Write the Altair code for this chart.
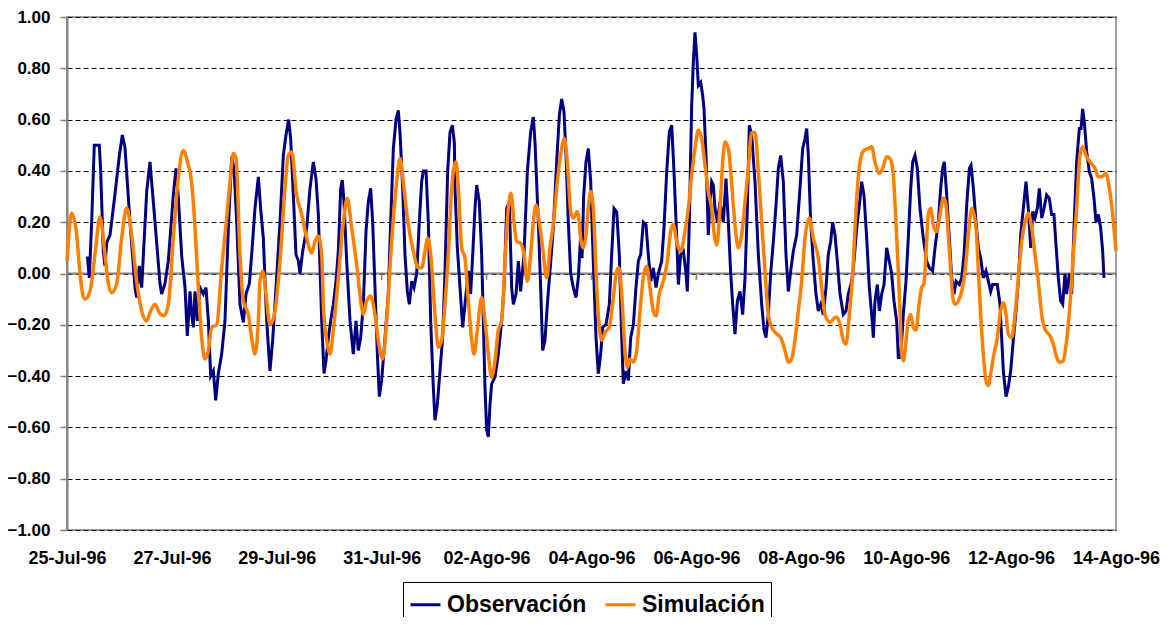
import altair as alt
import pandas as pd

# ---------------- data (days after 25-Jul-96, water level) ----------------
obs_day = [0.388, 0.426, 0.47, 0.52, 0.616, 0.642, 0.692, 0.724, 0.757, 0.82, 0.915, 0.998, 1.055, 1.106, 1.201,
           1.296, 1.328, 1.379, 1.424, 1.52, 1.582, 1.678, 1.773, 1.805, 1.868, 1.932, 2.027, 2.078, 2.122, 2.186,
           2.25, 2.294, 2.345, 2.377, 2.408, 2.44, 2.485, 2.536, 2.599, 2.65, 2.695, 2.74, 2.79, 2.835, 2.885,
           2.949, 3.012, 3.076, 3.14, 3.184, 3.235, 3.298, 3.362, 3.413, 3.476, 3.521, 3.584, 3.648, 3.693, 3.743,
           3.807, 3.87, 3.921, 3.985, 4.061, 4.124, 4.175, 4.226, 4.265, 4.315, 4.366, 4.41, 4.442, 4.494, 4.57,
           4.633, 4.696, 4.747, 4.792, 4.856, 4.9, 4.938, 4.983, 5.027, 5.078, 5.129, 5.173, 5.218, 5.249, 5.281,
           5.332, 5.396, 5.459, 5.51, 5.554, 5.599, 5.65, 5.701, 5.745, 5.79, 5.828, 5.872, 5.917, 5.955, 5.999,
           6.063, 6.126, 6.171, 6.222, 6.273, 6.317, 6.349, 6.4, 6.444, 6.489, 6.527, 6.572, 6.616, 6.667, 6.717,
           6.762, 6.794, 6.845, 6.889, 6.934, 6.984, 7.016, 7.061, 7.111, 7.162, 7.207, 7.258, 7.302, 7.347, 7.385,
           7.398, 7.442, 7.493, 7.544, 7.588, 7.652, 7.696, 7.735, 7.779, 7.811, 7.861, 7.906, 7.938, 7.969, 8.001,
           8.033, 8.065, 8.096, 8.16, 8.224, 8.287, 8.332, 8.383, 8.433, 8.478, 8.51, 8.561, 8.605, 8.649, 8.713,
           8.777, 8.84, 8.891, 8.923, 8.986, 9.031, 9.069, 9.113, 9.158, 9.209, 9.272, 9.336, 9.387, 9.431, 9.476,
           9.514, 9.558, 9.603, 9.653, 9.704, 9.749, 9.794, 9.82, 9.85, 9.895, 9.939, 9.985, 10.034, 10.086, 10.13,
           10.175, 10.213, 10.276, 10.34, 10.385, 10.429, 10.481, 10.53, 10.576, 10.607, 10.658, 10.702, 10.747,
           10.798, 10.848, 10.893, 10.938, 10.988, 11.039, 11.083, 11.128, 11.178, 11.23, 11.274, 11.338, 11.382,
           11.434, 11.484, 11.529, 11.573, 11.625, 11.656, 11.7, 11.751, 11.802, 11.827, 11.865, 11.91, 11.941,
           11.973, 12.005, 12.037, 12.082, 12.12, 12.145, 12.183, 12.227, 12.259, 12.291, 12.322, 12.355, 12.399,
           12.45, 12.514, 12.564, 12.609, 12.654, 12.692, 12.736, 12.781, 12.831, 12.882, 12.927, 12.971, 13.009,
           13.054, 13.117, 13.181, 13.245, 13.289, 13.327, 13.371, 13.416, 13.467, 13.518, 13.562, 13.607, 13.657,
           13.708, 13.753, 13.798, 13.848, 13.912, 13.975, 14.026, 14.071, 14.103, 14.134, 14.179, 14.229, 14.28,
           14.324, 14.37, 14.42, 14.471, 14.515, 14.56, 14.598, 14.643, 14.687, 14.738, 14.801, 14.852, 14.897,
           14.961, 15.005, 15.056, 15.107, 15.151, 15.195, 15.247, 15.297, 15.342, 15.374, 15.405, 15.45, 15.488,
           15.533, 15.577, 15.628, 15.678, 15.723, 15.767, 15.818, 15.85, 15.894, 15.945, 15.996, 16.04, 16.086,
           16.124, 16.168, 16.212, 16.263, 16.326, 16.39, 16.441, 16.504, 16.549, 16.612, 16.657, 16.695, 16.727,
           16.772, 16.822, 16.868, 16.912, 16.95, 17.014, 17.058, 17.103, 17.154, 17.204, 17.236, 17.281, 17.331,
           17.376, 17.42, 17.47, 17.521, 17.566, 17.611, 17.649, 17.693, 17.737, 17.788, 17.82, 17.852, 17.903,
           17.947, 17.992, 18.042, 18.093, 18.138, 18.183, 18.233, 18.284, 18.328, 18.374, 18.412, 18.456, 18.5,
           18.538, 18.583, 18.627, 18.678, 18.728, 18.773, 18.817, 18.869, 18.9, 18.945, 18.984, 19.027, 19.059,
           19.11, 19.155, 19.199, 19.25, 19.301, 19.333, 19.364, 19.396, 19.441, 19.491, 19.536, 19.581, 19.619,
           19.663, 19.708, 19.746, 19.771]
obs_val = [0.067, -0.017, 0.2, 0.5, 0.5, 0.4, 0.087, 0.03, 0.12, 0.15, 0.31, 0.46, 0.54, 0.49, 0.2,
           -0.055, -0.094, 0.03, -0.055, 0.32, 0.435, 0.2, -0.04, -0.08, -0.04, 0.05, 0.306, 0.41, 0.3, 0.07,
           -0.055, -0.243, -0.07, -0.16, -0.21, -0.07, -0.185, -0.055, -0.08, -0.055, -0.185, -0.4, -0.38, -0.495, -0.39,
           -0.314, -0.185, 0.177, 0.455, 0.41, 0.2, -0.12, -0.19, -0.08, -0.04, 0.074, 0.254, 0.377, 0.25, 0.138,
           -0.185, -0.38, -0.26, -0.055, 0.2, 0.46, 0.54, 0.6, 0.525, 0.306, 0.074, 0.05, 0.0, 0.087, 0.177,
           0.332, 0.435, 0.37, 0.23, -0.185, -0.39, -0.34, -0.25, -0.185, -0.12, -0.03, 0.087, 0.332, 0.364, 0.28,
           0.048, -0.185, -0.314, -0.185, -0.3, -0.25, -0.12, 0.164, 0.28, 0.332, 0.2, -0.055, -0.314, -0.48, -0.417,
           -0.25, -0.08, 0.2, 0.487, 0.6, 0.636, 0.55, 0.332, 0.074, -0.07, -0.12, -0.03, -0.055, 0.0, 0.2,
           0.358, 0.4, 0.4, 0.2, -0.185, -0.443, -0.572, -0.51, -0.38, -0.25, 0.01, 0.4, 0.55, 0.578, 0.51,
           0.332, 0.1, -0.055, -0.21, -0.12, 0.01, -0.08, 0.074, 0.254, 0.345, 0.28, 0.074, -0.185, -0.443, -0.61,
           -0.637, -0.51, -0.43, -0.404, -0.314, -0.185, -0.055, 0.254, 0.28, -0.055, -0.12, -0.08, 0.048, -0.07, 0.074,
           0.397, 0.552, 0.61, 0.51, 0.2, -0.055, -0.3, -0.26, -0.12, 0.01, 0.177, 0.435, 0.616, 0.68, 0.63,
           0.46, 0.2, 0.0, -0.055, -0.094, -0.017, 0.15, 0.06, 0.3, 0.435, 0.487, 0.358, 0.048, -0.25, -0.39,
           -0.314, -0.21, -0.2, -0.12, 0.074, 0.254, 0.24, 0.074, -0.25, -0.43, -0.38, -0.417, -0.25,
           -0.2, -0.055, 0.048, 0.074, 0.2, 0.19, 0.074, -0.03, 0.022, -0.055, 0.0, 0.048, 0.177,
           0.397, 0.552, 0.578, 0.397, 0.138, -0.043, 0.074, 0.087, 0.0, -0.07, 0.2, 0.655, 0.823,
           0.94, 0.85, 0.733, 0.745, 0.694, 0.642, 0.46, 0.15, 0.28, 0.358, 0.345, 0.254, 0.2,
           0.28, 0.2, 0.37, 0.2, 0.0, -0.12, -0.236, -0.107, -0.07, -0.16, -0.017, 0.254, 0.578,
           0.54, 0.358, 0.074, -0.12, -0.22, -0.25, -0.16, 0.0, 0.125, 0.267, 0.41, 0.46, 0.358,
           0.074, -0.07, 0.01, 0.087, 0.15, 0.332, 0.487, 0.526, 0.565, 0.46, 0.2, 0.048, -0.08,
           -0.146, -0.12, -0.16, -0.055, 0.074, 0.125, 0.2, 0.15, 0.048, -0.08, -0.16, -0.147, -0.08,
           -0.03, 0.048, 0.177, 0.267, 0.358, 0.306, 0.138, -0.055, -0.16, -0.25, -0.107, -0.043, -0.146,
           -0.08, -0.043, 0.1, 0.048, 0.0, -0.107, -0.185, -0.327, -0.327, -0.16, -0.03, 0.138, 0.332,
           0.435, 0.46, 0.41, 0.254, 0.138, 0.048, 0.022, 0.01, 0.1, 0.2, 0.332, 0.41, 0.435,
           0.306, 0.138, -0.017, -0.08, -0.03, -0.043, -0.017, 0.074, 0.267, 0.41, 0.422, 0.332, 0.2,
           0.1, 0.06, -0.017, 0.01, -0.03, -0.07, -0.043, -0.043, -0.043, -0.12, -0.25, -0.38, -0.48,
           -0.443, -0.38, -0.26, -0.146, -0.03, 0.15, 0.254, 0.358, 0.254, 0.1, 0.242, 0.216, 0.254,
           0.332, 0.216, 0.254, 0.306, 0.293, 0.23, 0.23, 0.074, -0.017, -0.107, -0.12, 0.0, -0.08,
           0.0, -0.08, 0.177, 0.435, 0.565, 0.565, 0.642, 0.59, 0.474, 0.397, 0.37, 0.293, 0.2,
           0.23, 0.177, 0.087, -0.017]

sim_day = [0.0, 0.09, 0.185, 0.248, 0.299, 0.343, 0.438, 0.534, 0.629, 0.724, 0.788, 0.852, 0.947, 1.042, 1.138,
           1.233, 1.328, 1.424, 1.518, 1.595, 1.678, 1.76, 1.849, 1.932, 2.027, 2.122, 2.218, 2.313, 2.345, 2.408,
           2.44, 2.504, 2.568, 2.631, 2.695, 2.758, 2.854, 2.949, 3.044, 3.108, 3.171, 3.222, 3.298, 3.362, 3.457,
           3.521, 3.584, 3.648, 3.68, 3.731, 3.794, 3.87, 3.966, 4.061, 4.156, 4.22, 4.284, 4.379, 4.475, 4.57,
           4.665, 4.728, 4.792, 4.856, 4.887, 4.951, 5.014, 5.078, 5.173, 5.268, 5.345, 5.427, 5.523, 5.618, 5.65,
           5.714, 5.79, 5.872, 5.955, 6.018, 6.095, 6.19, 6.286, 6.349, 6.412, 6.489, 6.603, 6.698, 6.762, 6.826,
           6.877, 6.934, 7.016, 7.08, 7.143, 7.207, 7.27, 7.334, 7.385, 7.417, 7.461, 7.525, 7.588, 7.652, 7.716,
           7.76, 7.823, 7.906, 7.969, 8.033, 8.096, 8.16, 8.224, 8.287, 8.351, 8.414, 8.465, 8.522, 8.573, 8.649,
           8.713, 8.777, 8.84, 8.891, 8.942, 9.005, 9.069, 9.145, 9.209, 9.285, 9.349, 9.419, 9.482, 9.539, 9.603,
           9.653, 9.729, 9.813, 9.844, 9.895, 9.939, 9.985, 10.034, 10.086, 10.13, 10.194, 10.257, 10.34, 10.416,
           10.481, 10.524, 10.576, 10.639, 10.683, 10.734, 10.798, 10.862, 10.925, 10.988, 11.052, 11.115, 11.178,
           11.23, 11.293, 11.369, 11.446, 11.51, 11.56, 11.625, 11.7, 11.783, 11.846, 11.91, 11.973, 12.037, 12.1,
           12.164, 12.227, 12.291, 12.341, 12.387, 12.45, 12.501, 12.545, 12.609, 12.654, 12.704, 12.755, 12.8,
           12.863, 12.927, 12.99, 13.054, 13.117, 13.181, 13.245, 13.308, 13.371, 13.435, 13.531, 13.607, 13.689,
           13.753, 13.817, 13.88, 13.943, 14.007, 14.071, 14.153, 14.229, 14.324, 14.389, 14.452, 14.547, 14.662,
           14.738, 14.801, 14.852, 14.916, 14.98, 15.024, 15.069, 15.132, 15.195, 15.278, 15.342, 15.405, 15.488,
           15.552, 15.628, 15.691, 15.754, 15.805, 15.85, 15.882, 15.914, 15.945, 15.99, 16.04, 16.086, 16.136,
           16.187, 16.238, 16.295, 16.339, 16.377, 16.422, 16.466, 16.517, 16.581, 16.644, 16.708, 16.759, 16.803,
           16.849, 16.899, 16.931, 16.994, 17.058, 17.122, 17.185, 17.249, 17.331, 17.376, 17.42, 17.47, 17.521,
           17.566, 17.611, 17.674, 17.737, 17.8, 17.852, 17.903, 17.947, 18.011, 18.074, 18.138, 18.202, 18.265,
           18.328, 18.393, 18.456, 18.519, 18.583, 18.646, 18.741, 18.804, 18.869, 18.932, 18.995, 19.059, 19.123,
           19.186, 19.25, 19.313, 19.364, 19.428, 19.504, 19.6, 19.663, 19.727, 19.809, 19.873, 19.936, 20.0]
sim_val = [0.048, 0.235, 0.15, 0.0, -0.08, -0.1, -0.07, 0.074, 0.22, 0.074, -0.04, -0.075, -0.04, 0.138, 0.255,
           0.15, -0.03, -0.146, -0.185, -0.146, -0.12, -0.153, -0.165, -0.12, 0.138, 0.371, 0.48, 0.422, 0.4, 0.28,
           0.18, -0.055, -0.25, -0.333, -0.3, -0.21, -0.2, 0.02, 0.216, 0.36, 0.468, 0.45, 0.074, -0.107, -0.16,
           -0.25, -0.314, -0.185, -0.03, 0.01, -0.08, -0.2, -0.146, 0.048, 0.332, 0.46, 0.474, 0.306, 0.23, 0.138,
           0.08, 0.125, 0.145, 0.074, -0.12, -0.26, -0.314, -0.22, -0.017, 0.2, 0.293, 0.177, 0.035, -0.133, -0.16,
           -0.107, -0.088, -0.16, -0.288, -0.333, -0.185, 0.125, 0.358, 0.448, 0.358, 0.216, 0.087, 0.022, 0.022, 0.087,
           0.138, 0.074, -0.16, -0.288, -0.26, -0.12, 0.074, 0.332, 0.42, 0.435, 0.332, 0.1, 0.06, -0.107, -0.26,
           -0.314, -0.22, -0.094, -0.185, -0.314, -0.404, -0.34, -0.22, -0.185, 0.048, 0.254, 0.313, 0.2, 0.125, 0.118,
           0.074, -0.03, 0.074, 0.2, 0.267, 0.2, 0.1, -0.017, 0.1, 0.216, 0.358, 0.474, 0.526, 0.435, 0.242,
           0.216, 0.242, 0.112, 0.1, 0.15, 0.254, 0.32, 0.254, 0.01, -0.16, -0.26, -0.23, -0.21, -0.094,
           0.01, 0.022, -0.08, -0.3, -0.366, -0.333, -0.346, -0.3, -0.146, -0.017, 0.028, -0.055, -0.146,
           -0.165, -0.08, -0.03, 0.048, 0.164, 0.19, 0.125, 0.087, 0.164, 0.254, 0.384, 0.487, 0.558, 0.526,
           0.422, 0.32, 0.254, 0.15, 0.11, 0.254, 0.435, 0.513, 0.487, 0.397, 0.267, 0.15, 0.1,
           0.15, 0.28, 0.41, 0.55, 0.55, 0.397, 0.2, 0.01, -0.16, -0.21, -0.236, -0.25, -0.3,
           -0.346, -0.333, -0.26, -0.146, -0.03, 0.138, 0.216, 0.138, 0.06, -0.055, -0.16, -0.19, -0.17,
           -0.198, -0.26, -0.275, -0.16, 0.0, 0.177, 0.332, 0.448, 0.48, 0.487, 0.494, 0.435, 0.39,
           0.41, 0.455, 0.448, 0.384, 0.2, 0.01, -0.146, -0.314, -0.34, -0.275, -0.185, -0.16, -0.21,
           -0.22, -0.133, -0.055, -0.04, 0.074, 0.23, 0.254, 0.19, 0.164, 0.23, 0.293, 0.267, 0.15,
           0.01, -0.107, -0.12, -0.107, -0.07, 0.01, 0.15, 0.254, 0.177, 0.01, -0.16, -0.314, -0.417,
           -0.437, -0.39, -0.314, -0.25, -0.146, -0.114, -0.16, -0.236, -0.25, -0.16, -0.017, 0.125, 0.2,
           0.235, 0.177, 0.074, -0.03, -0.16, -0.217, -0.243, -0.275, -0.327, -0.346, -0.34, -0.26, -0.12,
           0.074, 0.254, 0.46, 0.494, 0.46, 0.435, 0.41, 0.377, 0.377, 0.39, 0.332, 0.23, 0.087]

series_names = ["Observación", "Simulación"]
series_colors = ["#000080", "#FF8000"]
label_days = [0, 2, 4, 6, 8, 10, 12, 14, 16, 18, 20]
x_labels = ["25-Jul-96", "27-Jul-96", "29-Jul-96", "31-Jul-96", "02-Ago-96", "04-Ago-96",
            "06-Ago-96", "08-Ago-96", "10-Ago-96", "12-Ago-96", "14-Ago-96"]
y_ticks = [-1.0, -0.8, -0.6, -0.4, -0.2, 0.0, 0.2, 0.4, 0.6, 0.8, 1.0]
zero_tick_days = [2, 4, 6, 8, 10, 12, 14, 16, 18]

FONT = "Liberation Sans"

df_obs = pd.DataFrame({"dia": obs_day, "valor": obs_val, "serie": series_names[0]})
df_sim = pd.DataFrame({"dia": sim_day, "valor": sim_val, "serie": series_names[1]})
df_zero = pd.DataFrame({"valor": [0.0]})
df_zt = pd.DataFrame({"dia": zero_tick_days, "valor": [0.0] * len(zero_tick_days),
                      "valor2": [-0.025] * len(zero_tick_days)})

label_expr = "[" + ",".join("'%s'" % s for s in x_labels) + "][round(datum.value / 2)]"

x_enc = alt.X(
    "dia:Q",
    scale=alt.Scale(domain=[0, 20], nice=False, zero=False),
    axis=alt.Axis(values=label_days, labelExpr=label_expr, title=None, grid=False, domain=False,
                  ticks=True, tickSize=0, labelPadding=19, labelFontSize=18, labelFontWeight="bold",
                  labelFont=FONT, labelColor="black", labelFlush=False, labelOverlap=False),
)
y_enc = alt.Y(
    "valor:Q",
    scale=alt.Scale(domain=[-1, 1], nice=False, zero=False),
    axis=alt.Axis(values=y_ticks, format=".2f", title=None, grid=True, gridColor="black",
                  gridDash=[5, 3], gridWidth=1, domainColor="#808080", domainWidth=2,
                  tickColor="#808080", tickSize=7, tickWidth=1.5, labelPadding=10,
                  labelFontSize=17, labelFontWeight="bold", labelFont=FONT, labelColor="black",
                  labelOverlap=False),
)
color_enc = alt.Color(
    "serie:N",
    scale=alt.Scale(domain=series_names, range=series_colors),
    legend=alt.Legend(title=None, orient="none", legendX=336, legendY=565, direction="horizontal",
                      symbolType="stroke", symbolSize=900, symbolStrokeWidth=3, labelFontSize=23,
                      labelFontWeight="bold", labelFont=FONT, labelColor="black", strokeColor="black",
                      padding=6, columnPadding=12, labelOffset=5),
)

zero_line = alt.Chart(df_zero).mark_rule(color="#808080", strokeWidth=2).encode(y=y_enc)
zero_ticks = alt.Chart(df_zt).mark_rule(color="#808080", strokeWidth=1.5).encode(
    x=x_enc, y=y_enc, y2="valor2:Q")
obs_line = alt.Chart(df_obs).mark_line(strokeWidth=3, interpolate="linear").encode(
    x=x_enc, y=y_enc, color=color_enc)
sim_line = alt.Chart(df_sim).mark_line(strokeWidth=3.5, interpolate="monotone").encode(
    x=x_enc, y=y_enc, color=color_enc)

chart = alt.layer(zero_line, zero_ticks, obs_line, sim_line).properties(
    width=1049, height=513,
    autosize=alt.AutoSizeParams(type="none"),
    padding={"left": 59, "top": 9, "right": 45, "bottom": 87},
    background="white",
).configure_view(stroke="#808080", strokeWidth=1.5)

chart.save("out.html", embed_options={"renderer": "svg", "actions": False})
